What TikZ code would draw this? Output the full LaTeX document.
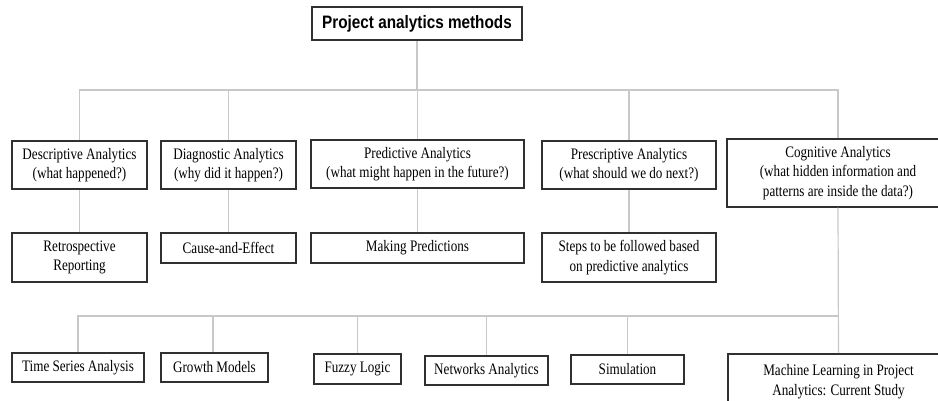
\documentclass[tikz,border=0pt]{standalone}
\usepackage{fontspec}
\setmainfont{Liberation Serif}[FakeStretch=0.82]
\newfontfamily\titlefont{Liberation Sans}[FakeStretch=0.85]
\definecolor{linegray}{HTML}{C8C8C8}
\definecolor{boxline}{HTML}{303030}
\begin{document}
\begin{tikzpicture}[x=1pt,y=-1pt,
  box/.style={draw=boxline,line width=1.2pt,fill=white,inner sep=0pt,align=center,
    font=\fontsize{16}{19.5}\selectfont},
  titlebox/.style={draw=boxline,line width=1.3pt,fill=white,inner sep=0pt,align=center,
    font=\titlefont\bfseries\fontsize{18}{21}\selectfont},
  conn/.style={draw=linegray,line width=1.2pt}]
\useasboundingbox (0,0) rectangle (938,400);
\clip (0,0) rectangle (938,400);
% coordinates of the buses
\coordinate (bus1) at (417,90);
\coordinate (bus2) at (838,316);
% nodes
\node[titlebox,minimum width=210pt,minimum height=33pt] (top) at (417,23.5) {Project analytics methods};
\node[box,minimum width=135pt,minimum height=48pt] (desc) at (79.5,165) {Descriptive Analytics\\(what happened?)};
\node[box,minimum width=135pt,minimum height=48pt] (diag) at (228.5,165) {Diagnostic Analytics\\(why did it happen?)};
\node[box,minimum width=213pt,minimum height=48pt] (pred) at (417.5,164) {Predictive Analytics\\(what might happen in the future?)};
\node[box,minimum width=174pt,minimum height=48pt] (presc) at (629,165) {Prescriptive Analytics\\(what should we do next?)};
\node[box,minimum width=222pt,minimum height=68pt] (cog) at (838,173) {Cognitive Analytics\\(what hidden information and\\patterns are inside the data?)};
\node[box,minimum width=135pt,minimum height=49pt] (retro) at (79.5,257.5) {Retrospective\\Reporting};
\node[box,minimum width=135pt,minimum height=30pt] (cause) at (228.5,248) {Cause-and-Effect};
\node[box,minimum width=213pt,minimum height=30pt] (making) at (417.5,248) {Making Predictions};
\node[box,minimum width=174pt,minimum height=49pt] (steps) at (629,257.5) {Steps to be followed based\\on predictive analytics};
\node[box,minimum width=132pt,minimum height=29pt] (time) at (78,367.5) {Time Series Analysis};
\node[box,minimum width=107pt,minimum height=29pt] (growth) at (214.5,367.5) {Growth Models};
\node[box,minimum width=87pt,minimum height=30pt] (fuzzy) at (357.5,369) {Fuzzy Logic};
\node[box,minimum width=123pt,minimum height=29pt] (net) at (486.5,370.5) {Networks Analytics};
\node[box,minimum width=113pt,minimum height=29pt] (sim) at (627.5,369.5) {Simulation};
\node[box,line width=2pt,minimum width=221pt,minimum height=55pt] (ml) at (838.5,381.5) {Machine Learning in Project\\Analytics: Current Study};
% connectors: top level
\begin{scope}[on background layer/.style={}]
\draw[conn] (top.south) -- (bus1);
\draw[conn] (desc.north) -- (desc.north |- bus1) -- (cog.north |- bus1) -- (cog.north);
\draw[conn] (diag.north) -- (diag.north |- bus1);
\draw[conn] (pred.north) -- (pred.north |- bus1);
\draw[conn] (presc.north) -- (presc.north |- bus1);
% second level
\draw[conn] (desc.south) -- (retro.north);
\draw[conn] (diag.south) -- (cause.north);
\draw[conn] (pred.south) -- (making.north);
\draw[conn] (presc.south) -- (steps.north);
% bottom bus
\draw[conn] (cog.south) -- (ml.north);
\draw[conn] (time.north) -- (time.north |- bus2) -- (bus2);
\draw[conn] ([xshift=-1.5pt]growth.north) -- ([xshift=-1.5pt]growth.north |- bus2);
\draw[conn] (fuzzy.north) -- (fuzzy.north |- bus2);
\draw[conn] (net.north) -- (net.north |- bus2);
\draw[conn] (sim.north) -- (sim.north |- bus2);
\end{scope}
\end{tikzpicture}
\end{document}
